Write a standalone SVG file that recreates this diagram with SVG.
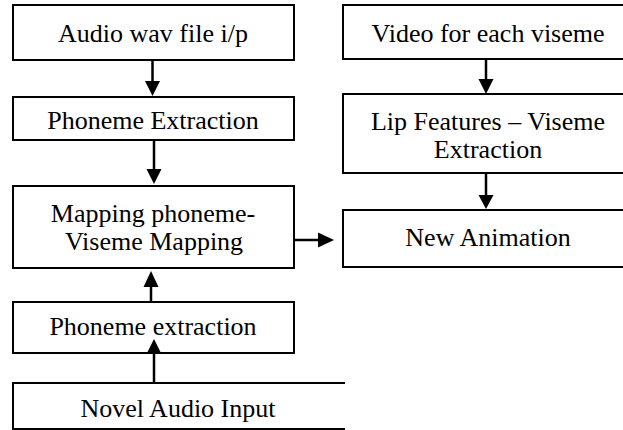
<svg xmlns="http://www.w3.org/2000/svg" width="623" height="430" viewBox="0 0 623 430">
  <style>
    .box { fill: #ffffff; stroke: #000000; stroke-width: 2; }
    .lbl { font-size: 26px; fill: #000000; text-anchor: middle; }
    .wire { stroke: #000000; stroke-width: 2.5; fill: none; }
    .head { fill: #000000; }
  </style>
  <rect width="623" height="430" fill="#ffffff"/>

  <g font-family="'Liberation Serif', 'DejaVu Serif', serif">
  <g id="audio-input">
    <rect class="box" x="13" y="5" width="281" height="55"/>
    <text class="lbl" x="153" y="42">Audio wav file i/p</text>
  </g>
  <g id="phoneme-extraction">
    <rect class="box" x="13" y="97" width="281" height="43"/>
    <text class="lbl" x="153" y="129">Phoneme Extraction</text>
  </g>
  <g id="mapping">
    <rect class="box" x="13" y="186" width="281" height="82"/>
    <text class="lbl" x="153" y="222">Mapping phoneme-</text>
    <text class="lbl" x="154" y="250">Viseme Mapping</text>
  </g>
  <g id="phoneme-extraction-novel">
    <rect class="box" x="13" y="302" width="281" height="51"/>
    <text class="lbl" x="153" y="335">Phoneme extraction</text>
  </g>
  <g id="novel-audio">
    <path class="box" d="M345 383 H13 V429 H345"/>
    <text class="lbl" x="178" y="417">Novel Audio Input</text>
  </g>
  <g id="video">
    <rect class="box" x="343" y="5" width="300" height="54"/>
    <text class="lbl" x="488" y="42">Video for each viseme</text>
  </g>
  <g id="lip-features">
    <rect class="box" x="343" y="94" width="300" height="79"/>
    <text class="lbl" x="488" y="130">Lip Features – Viseme</text>
    <text class="lbl" x="488" y="158">Extraction</text>
  </g>
  <g id="new-animation">
    <rect class="box" x="343" y="210" width="300" height="57"/>
    <text class="lbl" x="488" y="246">New Animation</text>
  </g>
  </g>

  <g id="connectors">
    <!-- audio -> phoneme extraction -->
    <line class="wire" x1="152.5" y1="60" x2="152.5" y2="82"/>
    <polygon class="head" points="145,81 160,81 152.5,96"/>
    <!-- phoneme extraction -> mapping -->
    <line class="wire" x1="154" y1="140" x2="154" y2="170"/>
    <polygon class="head" points="146.5,169 161.5,169 154,184"/>
    <!-- phoneme extraction (novel) -> mapping -->
    <line class="wire" x1="151" y1="302" x2="151" y2="286"/>
    <polygon class="head" points="143.5,287 158.5,287 151,271"/>
    <!-- novel audio -> phoneme extraction -->
    <line class="wire" x1="154" y1="383" x2="154" y2="353"/>
    <polygon class="head" points="146.5,354 161.5,354 154,339"/>
    <!-- mapping -> new animation -->
    <line class="wire" x1="294" y1="240" x2="320" y2="240"/>
    <polygon class="head" points="318,232.5 318,247.5 334,240"/>
    <!-- video -> lip features -->
    <line class="wire" x1="486" y1="59" x2="486" y2="80"/>
    <polygon class="head" points="478.5,79 493.5,79 486,94"/>
    <!-- lip features -> new animation -->
    <line class="wire" x1="486" y1="173" x2="486" y2="196"/>
    <polygon class="head" points="478.5,195 493.5,195 486,209"/>
  </g>
</svg>
